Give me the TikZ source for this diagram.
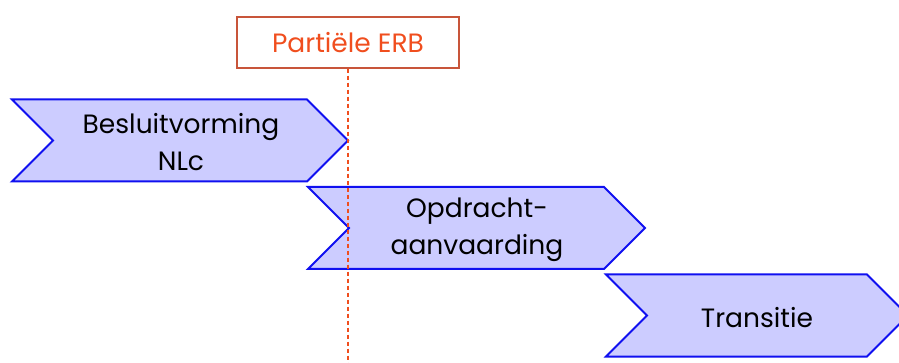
\documentclass[tikz,border=0pt]{standalone}
\usepackage{fontspec}
\setmainfont{Poppins}
\begin{document}
\begin{tikzpicture}[x=1pt,y=-1pt,
  chev/.style={draw=chevblue,fill=chevfill,line width=2pt,line join=miter},
  lbl/.style={font=\fontsize{26.5}{37}\selectfont,align=center,text=black},
  erb/.style={draw=erbborder,line width=1.4pt,minimum width=222pt,minimum height=51pt,inner sep=0pt,text=erbtext,font=\fontsize{26.5}{30}\selectfont},
  dashline/.style={draw=erbtext,line width=1.1pt,dash pattern=on 4pt off 3pt}]
\definecolor{chevblue}{HTML}{1010F0}
\definecolor{chevfill}{HTML}{CCCCFF}
\definecolor{erbborder}{HTML}{C8553A}
\definecolor{erbtext}{HTML}{F04E1E}
\useasboundingbox (0,0) rectangle (899,363);
% chevrons
\draw[chev] (12,99.5) -- (307,99.5) -- (348,140.5) -- (307,181.5) -- (12,181.5) -- (53,140.5) -- cycle;
\draw[chev] (308,187) -- (604,187) -- (645,228) -- (604,269) -- (308,269) -- (349,228) -- cycle;
\draw[chev] (606,274.5) -- (867,274.5) -- (908,315.5) -- (867,356.5) -- (606,356.5) -- (647,315.5) -- cycle;
\node[lbl] (b) at (181,142) {Besluitvorming\\NLc};
\node[lbl] (o) at (477,230) {Opdracht-\\aanvaarding};
\node[lbl] (t) at (757,318) {Transitie};
% ERB
\node[erb] (erb) at (348,42.5) {Partiële ERB};
\coordinate (bot) at (348,363);
\draw[dashline] (erb.south) -- (bot);
\end{tikzpicture}
\end{document}
